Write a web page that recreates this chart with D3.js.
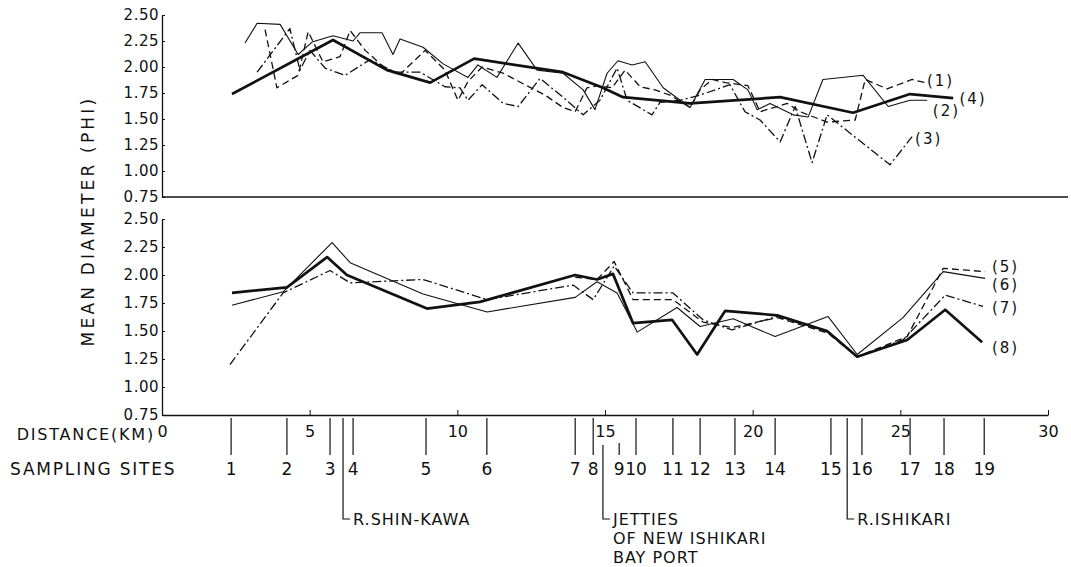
<!DOCTYPE html>
<html>
<head>
<meta charset="utf-8">
<script src="https://cdn.jsdelivr.net/npm/d3@7"></script>
<style>
  body { margin: 0; background: #fff; }
  svg text { font-family: "DejaVu Sans", sans-serif; fill: #111; }
  .line { fill: none; stroke: #111; stroke-linejoin: round; }
</style>
</head>
<body>
<script>
//sampling sites and distance axis
var siteLabels = ["1","2","3","4","5","6","7","8","9","10","11","12","13","14","15","16","17","18","19"];
var siteKm = [2.34,4.23,5.69,6.47,8.94,11.0,13.99,14.6,15.48,16.05,17.3,18.22,19.4,20.76,22.65,23.7,25.33,26.48,27.84];
var kmTicks = [0,5,10,15,20,25,30];
var phiTicks = [0.75,1.00,1.25,1.50,1.75,2.00,2.25,2.50];

//top panel series (1)-(4)
var s1Km = [3.49,3.89,4.61,4.95,5.45,6.03,6.37,6.88,7.55,8.06,8.91,9.58,10.02,10.36,10.84,11.55,12.29,12.97,13.58,13.99,14.39,14.76,15.24,15.68,16.19,16.69,17.2,17.88,18.22,18.63,19.07,19.84,20.25,21.17,21.61,22.52,23.47,23.81,24.55,25.4,25.84];
var s1Phi = [2.36,1.80,1.92,2.34,2.05,2.10,2.35,2.16,1.99,1.93,2.16,1.97,1.68,1.86,2.00,1.94,1.83,1.73,1.61,1.57,1.80,1.82,1.80,1.97,1.81,1.78,1.73,1.61,1.78,1.88,1.85,1.82,1.57,1.65,1.57,1.47,1.49,1.88,1.79,1.88,1.85];
var s2Km = [2.81,3.22,4.0,4.61,5.08,5.79,6.47,6.71,7.45,7.82,8.06,8.84,9.52,10.36,10.7,11.34,12.06,12.7,13.58,14.26,14.66,15.07,15.44,15.92,16.36,16.97,17.88,18.39,19.34,19.84,20.15,20.59,21.37,21.88,22.38,23.74,24.59,25.33,25.91];
var s2Phi = [2.23,2.42,2.41,2.12,2.24,2.30,2.25,2.33,2.33,2.12,2.27,2.19,2.03,1.90,2.02,1.90,2.23,1.97,1.94,1.78,1.59,1.94,2.06,2.02,2.05,1.80,1.61,1.88,1.88,1.78,1.59,1.65,1.54,1.52,1.88,1.92,1.62,1.68,1.68];
var s3Km = [3.22,4.33,4.67,5.01,5.52,6.2,7.04,7.89,8.74,9.58,10.09,10.36,10.84,11.55,12.06,12.8,13.58,14.26,14.83,15.41,15.75,16.59,16.86,17.54,18.22,19.23,19.74,20.25,20.93,21.44,22.01,22.52,24.65,25.4];
var s3Phi = [1.95,2.37,1.97,2.16,1.99,1.92,2.07,1.95,1.95,1.81,1.80,1.68,1.83,1.65,1.62,1.89,1.71,1.54,1.68,1.99,1.68,1.54,1.66,1.68,1.73,1.83,1.57,1.49,1.28,1.62,1.08,1.54,1.06,1.33];
var s4Km = [2.37,5.79,7.62,9.08,10.57,13.58,14.93,15.61,17.88,20.93,23.4,25.33,26.79];
var s4Phi = [1.74,2.26,1.97,1.85,2.08,1.95,1.80,1.71,1.65,1.71,1.56,1.74,1.70];

//bottom panel series (5)-(8)
var s5Km = [13.99,14.73,15.31,15.95,17.3,18.32,19.3,20.83,22.55,23.54,25.23,26.45,27.87];
var s5Phi = [1.98,1.96,2.12,1.78,1.78,1.58,1.53,1.62,1.48,1.27,1.45,2.06,2.03];
var s6Km = [2.37,4.10,5.76,6.37,6.98,8.84,11.01,13.99,14.73,15.41,16.09,17.44,18.22,19.34,20.76,22.55,23.54,25.09,26.45,27.87];
var s6Phi = [1.73,1.85,2.29,2.11,2.04,1.83,1.67,1.80,1.94,1.84,1.49,1.71,1.54,1.61,1.45,1.63,1.29,1.62,2.03,1.97];
var s7Km = [2.30,4.10,5.69,6.37,8.84,11.01,13.92,14.6,15.31,15.95,17.3,18.32,19.3,20.83,22.55,23.54,25.09,26.52,27.8];
var s7Phi = [1.20,1.84,2.04,1.93,1.96,1.78,1.91,1.78,2.08,1.84,1.84,1.60,1.51,1.63,1.49,1.27,1.42,1.82,1.72];
var s8Km = [2.37,4.23,5.59,6.26,8.97,10.77,13.99,14.73,15.27,15.95,17.27,18.12,19.07,20.83,22.52,23.54,25.23,26.52,27.77];
var s8Phi = [1.84,1.89,2.16,2.00,1.70,1.76,2.00,1.96,2.01,1.57,1.60,1.29,1.68,1.64,1.50,1.27,1.42,1.69,1.40];

window.onload = drawChart();

function drawChart(){

    var width = 1071,
        height = 567;

    var svg = d3.select("body")
        .append("svg")
        .attr("width", width)
        .attr("height", height);

    //shared distance scale and one phi scale per panel
    var x = d3.scaleLinear().domain([0, 30]).range([162, 1048]);
    var yTop = d3.scaleLinear().domain([0.75, 2.5]).range([197, 15]);
    var yBot = d3.scaleLinear().domain([0.75, 2.5]).range([415, 219]);

    var styles = {
        dashed: {w: 1.3, dash: "7,4"},
        thin: {w: 1.1, dash: null},
        dashdot: {w: 1.3, dash: "9,3,2,3"},
        thick: {w: 2.7, dash: null}
    };

    //y axes
    [yTop, yBot].forEach(function(y){
        var ax = d3.axisLeft(y)
            .tickValues(phiTicks)
            .tickFormat(d3.format(".2f"))
            .tickSizeInner(-3)
            .tickSizeOuter(0)
            .tickPadding(3);
        var g = svg.append("g")
            .attr("transform", "translate(" + x(0) + ",0)")
            .call(ax);
        g.select(".domain").attr("stroke", "#111").attr("stroke-width", 1.3);
        g.selectAll(".tick line").attr("stroke", "#111");
        g.selectAll("text")
            .style("font-family", "DejaVu Sans, sans-serif")
            .style("font-size", "15px")
            .style("letter-spacing", "0.5px")
            .attr("fill", "#111");
    });

    //top panel base line
    svg.append("line")
        .attr("x1", x(0)).attr("x2", 1068)
        .attr("y1", yTop(0.75)).attr("y2", yTop(0.75))
        .attr("stroke", "#111").attr("stroke-width", 1.5);

    //distance axis under bottom panel
    var xAxis = d3.axisBottom(x)
        .tickValues(kmTicks)
        .tickFormat(d3.format("d"))
        .tickSizeInner(-5)
        .tickSizeOuter(0)
        .tickPadding(11);
    var gx = svg.append("g")
        .attr("transform", "translate(0," + yBot(0.75) + ")")
        .call(xAxis);
    gx.select(".domain").attr("stroke", "#111").attr("stroke-width", 1.5);
    gx.selectAll(".tick line").attr("stroke", "#111");
    gx.selectAll("text")
        .style("font-family", "DejaVu Sans, sans-serif")
        .style("font-size", "16px")
        .attr("fill", "#111");

    //y axis title
    svg.append("text")
        .attr("transform", "translate(94,221) rotate(-90)")
        .attr("text-anchor", "middle")
        .style("font-size", "17px")
        .style("letter-spacing", "3.2px")
        .text("MEAN DIAMETER (PHI)");

    svg.append("text")
        .attr("x", 155).attr("y", 440)
        .attr("text-anchor", "end")
        .style("font-size", "16px")
        .style("letter-spacing", "1.8px")
        .text("DISTANCE(KM)");

    svg.append("text")
        .attr("x", 10).attr("y", 475)
        .style("font-size", "17px")
        .style("letter-spacing", "1.8px")
        .text("SAMPLING SITES");

    //sampling site ticks and numbers
    svg.selectAll(".site")
        .data(siteKm)
        .enter()
        .append("line")
        .attr("class", "site")
        .attr("x1", function(d){ return x(d); })
        .attr("x2", function(d){ return x(d); })
        .attr("y1", function(d, i){ return siteLabels[i] == "9" ? 443 : 418; })
        .attr("y2", 455)
        .attr("stroke", "#111")
        .attr("stroke-width", 1.2);

    svg.selectAll(".siteLabel")
        .data(siteKm)
        .enter()
        .append("text")
        .attr("class", "siteLabel")
        .attr("x", function(d){ return x(d); })
        .attr("y", 475)
        .attr("text-anchor", "middle")
        .style("font-size", "17px")
        .text(function(d, i){ return siteLabels[i]; });

    //landmark callouts
    var marks = [
        {km: 6.13, top: 418, lines: ["R.SHIN-KAWA"]},
        {km: 14.93, top: 445, lines: ["JETTIES", "OF NEW ISHIKARI", "BAY PORT"]},
        {km: 23.2, top: 418, lines: ["R.ISHIKARI"]}
    ];
    marks.forEach(function(m){
        var mx = x(m.km);
        svg.append("path")
            .attr("d", "M" + mx + "," + m.top + "V519H" + (mx + 7))
            .attr("fill", "none")
            .attr("stroke", "#111")
            .attr("stroke-width", 1.2);
        m.lines.forEach(function(t, i){
            svg.append("text")
                .attr("x", mx + 10)
                .attr("y", 525 + i * 19)
                .style("font-size", "16px")
                .style("letter-spacing", "1px")
                .text(t);
        });
    });

    //series lines
    var series = [
        {km: s1Km, phi: s1Phi, y: yTop, st: "dashed"},
        {km: s3Km, phi: s3Phi, y: yTop, st: "dashdot"},
        {km: s2Km, phi: s2Phi, y: yTop, st: "thin"},
        {km: s4Km, phi: s4Phi, y: yTop, st: "thick"},
        {km: s5Km, phi: s5Phi, y: yBot, st: "dashed"},
        {km: s7Km, phi: s7Phi, y: yBot, st: "dashdot"},
        {km: s6Km, phi: s6Phi, y: yBot, st: "thin"},
        {km: s8Km, phi: s8Phi, y: yBot, st: "thick"}
    ];
    series.forEach(function(s){
        var line = d3.line()
            .x(function(d){ return x(d[0]); })
            .y(function(d){ return s.y(d[1]); });
        svg.append("path")
            .datum(d3.zip(s.km, s.phi))
            .attr("class", "line")
            .attr("d", line)
            .attr("stroke-width", styles[s.st].w)
            .attr("stroke-dasharray", styles[s.st].dash);
    });

    //series labels
    var labels = [
        {t: "(1)", km: 25.9, phi: 1.865, y: yTop},
        {t: "(4)", km: 27.0, phi: 1.69, y: yTop},
        {t: "(2)", km: 26.1, phi: 1.58, y: yTop},
        {t: "(3)", km: 25.5, phi: 1.31, y: yTop},
        {t: "(5)", km: 28.1, phi: 2.07, y: yBot},
        {t: "(6)", km: 28.1, phi: 1.915, y: yBot},
        {t: "(7)", km: 28.1, phi: 1.705, y: yBot},
        {t: "(8)", km: 28.1, phi: 1.35, y: yBot}
    ];
    svg.selectAll(".lbl")
        .data(labels)
        .enter()
        .append("text")
        .attr("class", "lbl")
        .attr("x", function(d){ return x(d.km); })
        .attr("y", function(d){ return d.y(d.phi) + 5; })
        .style("font-size", "15px")
        .style("letter-spacing", "2px")
        .text(function(d){ return d.t; });
};
</script>
</body>
</html>
